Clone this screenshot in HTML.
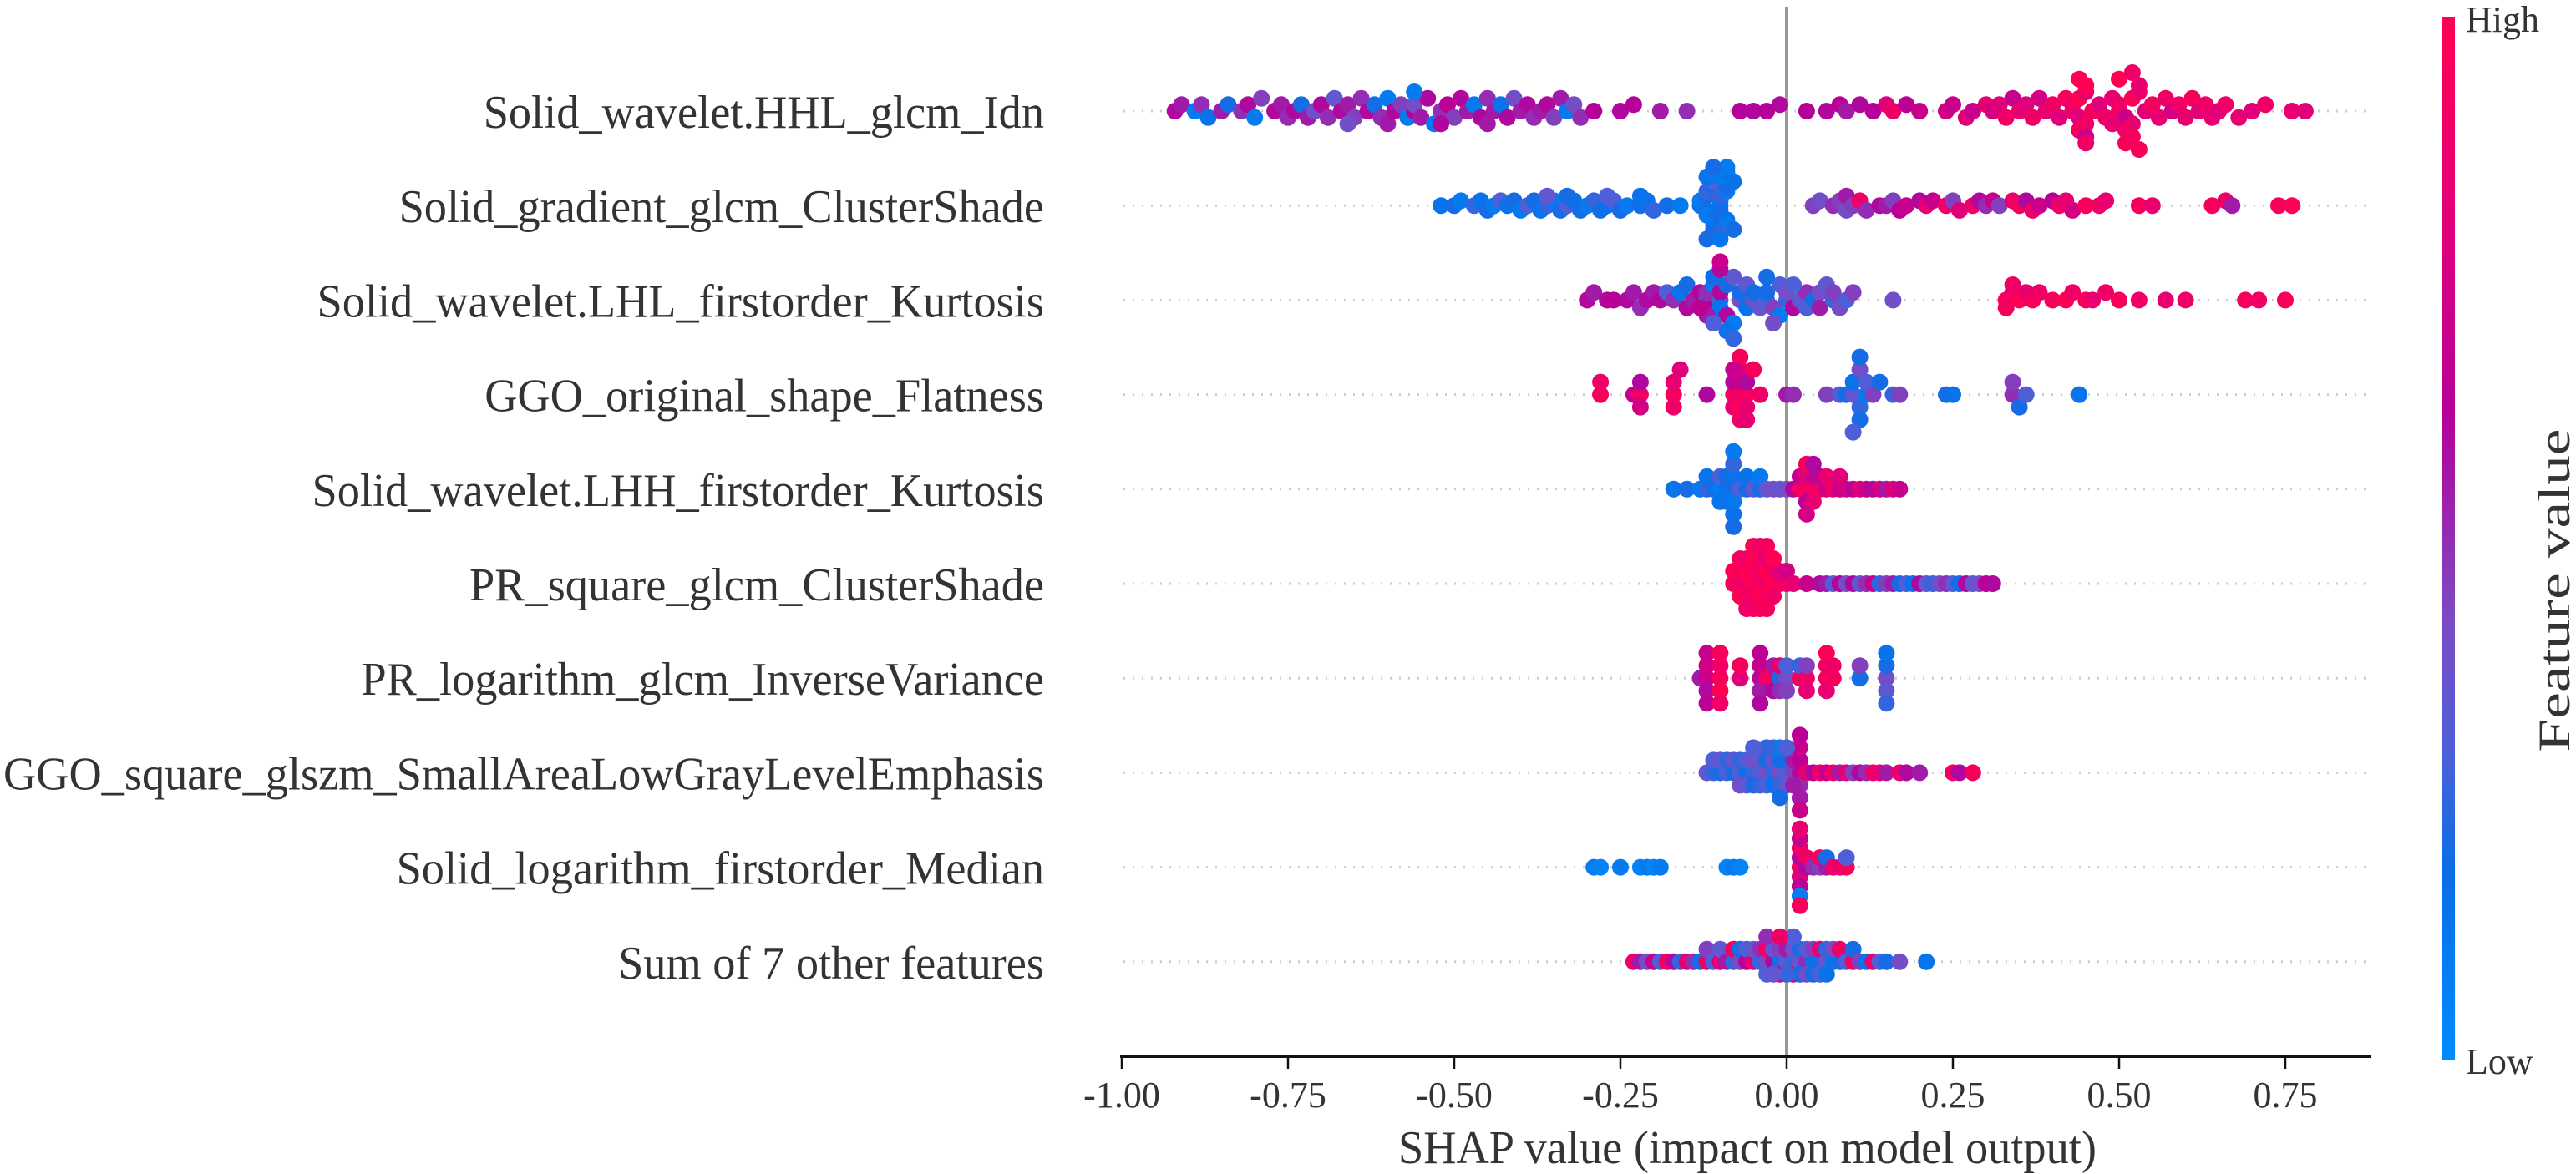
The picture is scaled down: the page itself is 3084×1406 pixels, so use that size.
<!DOCTYPE html>
<html><head><meta charset="utf-8"><style>
html,body{margin:0;padding:0;background:#fff;}
svg{display:block;}
text{font-family:"Liberation Serif","Times New Roman",serif;fill:#333;}
</style></head><body>
<svg id="chart" width="3084" height="1406" viewBox="0 0 3084 1406" xmlns="http://www.w3.org/2000/svg">
<defs>
<linearGradient id="cbar" x1="0" y1="1" x2="0" y2="0">
<stop offset="0" stop-color="#008bfb"/><stop offset="0.18" stop-color="#0a6ee6"/><stop offset="0.3" stop-color="#4f5fd8"/><stop offset="0.42" stop-color="#7a4bc4"/><stop offset="0.55" stop-color="#a21aa8"/><stop offset="0.62" stop-color="#b5009a"/><stop offset="0.8" stop-color="#e0007a"/><stop offset="1" stop-color="#ff0052"/>
</linearGradient>
</defs>
<g id="grid"></g>
<line x1="2139" y1="8" x2="2139" y2="1265" stroke="#999" stroke-width="4"/>
<g id="dots"></g>
<g id="axis"></g>
<g id="labels"></g>
<rect x="2923" y="20" width="16" height="1250" fill="url(#cbar)"/>
<text x="2952" y="38" font-size="44" fill="#222">High</text>
<text x="2952" y="1286" font-size="44" fill="#222">Low</text>
<text x="0" y="0" font-size="54" text-anchor="middle" textLength="387" lengthAdjust="spacingAndGlyphs" transform="translate(3076,707) rotate(-90)">Feature value</text>
<text x="2092" y="1393" font-size="56" text-anchor="middle" textLength="836" lengthAdjust="spacingAndGlyphs">SHAP value (impact on model output)</text>
</svg>
<script>
const features = ["Solid_wavelet.HHL_glcm_Idn","Solid_gradient_glcm_ClusterShade","Solid_wavelet.LHL_firstorder_Kurtosis","GGO_original_shape_Flatness","Solid_wavelet.LHH_firstorder_Kurtosis","PR_square_glcm_ClusterShade","PR_logarithm_glcm_InverseVariance","GGO_square_glszm_SmallAreaLowGrayLevelEmphasis","Solid_logarithm_firstorder_Median","Sum of 7 other features"];
const tickValues = [-1.0,-0.75,-0.5,-0.25,0.0,0.25,0.5,0.75];
const tickLabels = ["-1.00","-0.75","-0.50","-0.25","0.00","0.25","0.50","0.75"];

const shap0 = [-0.92,-0.91,-0.89,-0.88,-0.87,-0.85,-0.84,-0.82,-0.81,-0.80,-0.79,-0.77,-0.76,-0.75,-0.74,-0.73,-0.72,-0.71,-0.70,-0.69,-0.68,-0.67,-0.66,-0.65,-0.64,-0.63,-0.62,-0.61,-0.60,-0.60,-0.59,-0.58,-0.57,-0.56,-0.56,-0.55,-0.54,-0.53,-0.52,-0.51,-0.50,-0.49,-0.48,-0.47,-0.46,-0.45,-0.44,-0.43,-0.42,-0.41,-0.40,-0.39,-0.38,-0.37,-0.36,-0.35,-0.34,-0.33,-0.32,-0.31,-0.29,-0.25,-0.23,-0.19,-0.15,-0.07,-0.05,-0.03,-0.01,
0.03,0.06,0.08,0.09,0.11,0.13,0.15,0.16,0.18,0.20,0.24,0.25,0.27,0.28,0.30,0.31,0.32,0.33,0.34,0.35,0.36,0.37,0.38,0.39,0.40,0.41,0.42,0.43,0.43,0.44,0.44,0.45,0.45,0.46,0.47,0.48,0.49,0.50,0.50,0.51,0.52,0.52,0.53,0.54,0.55,0.56,0.57,0.58,0.59,0.60,0.61,0.62,0.63,0.64,0.65,0.66,0.68,0.70,0.72,0.76,0.78,0.44,0.45,0.51,0.53,0.45,0.52,
0.50,0.51,0.52,0.44,0.45,0.53,0.49,-0.56,-0.52,-0.66,-0.45];
const feat0 = [.6,.55,.1,.5,.15,.55,.2,.5,.6,.1,.45,.6,.55,.5,.6,.2,.55,.4,.6,.5,.35,.6,.55,.45,.5,.6,.2,.5,.1,.55,.6,.45,.1,.62,.4,.55,.6,.1,.5,.65,.45,.6,.55,.1,.6,.5,.55,.15,.6,.4,.55,.6,.5,.55,.6,.45,.55,.1,.4,.5,.62,.6,.62,.55,.5,.62,.6,.62,.6,
.62,.6,.65,.55,.6,.62,.8,.9,.65,.7,.75,.7,.8,.7,.85,.75,.8,.9,.7,.85,.8,.9,.75,.85,.9,.8,.95,.85,.9,.8,1,.9,.85,.95,.8,.9,.85,.95,.9,.7,1,.85,.9,.8,.95,.85,.9,.75,.9,.85,.95,.8,.9,.85,.8,.9,.85,.8,.9,.85,.8,.95,1,.9,.85,.7,.95,
1,.95,.9,1,.9,.95,.85,.1,.6,.4,.55];

const shap1 = [-0.52,-0.50,-0.49,-0.47,-0.46,-0.45,-0.44,-0.43,-0.42,-0.41,-0.40,-0.39,-0.38,-0.37,-0.36,-0.35,-0.34,-0.33,-0.32,-0.31,-0.30,-0.29,-0.28,-0.27,-0.26,-0.25,-0.24,-0.22,-0.21,-0.20,-0.18,-0.16,-0.13,-0.13,-0.12,-0.12,-0.12,-0.12,-0.11,-0.11,-0.11,-0.11,-0.11,-0.10,-0.10,-0.10,-0.10,-0.10,-0.09,-0.09,-0.09,-0.09,-0.08,-0.08,
0.04,0.05,0.07,0.08,0.09,0.09,0.10,0.11,0.12,0.14,0.15,0.16,0.17,0.18,0.20,0.21,0.22,0.24,0.25,0.26,0.28,0.29,0.30,0.31,0.32,0.34,0.35,0.36,0.37,0.38,0.40,0.41,0.42,0.43,0.45,0.47,0.48,0.53,0.55,0.64,0.66,0.67,0.74,0.76,
-0.12,-0.11,-0.10,-0.10,-0.09,-0.11,-0.12,-0.10,-0.09,-0.11,-0.27,-0.33,-0.36,-0.22];
const feat1 = [.15,.2,.1,.25,.15,.2,.1,.3,.15,.2,.1,.3,.2,.15,.25,.1,.2,.3,.15,.2,.1,.25,.2,.15,.3,.2,.1,.2,.15,.25,.2,.1,.2,.1,.15,.2,.1,.25,.15,.2,.1,.3,.15,.2,.1,.15,.25,.2,.1,.15,.2,.1,.15,.2,
.45,.4,.5,.45,.4,.55,.45,.9,.5,.6,.55,.45,.65,.7,.6,.85,.7,.9,.45,.8,.9,.6,.5,.7,.45,.9,.95,.6,.9,.7,.65,.9,.85,.75,.95,.9,.85,.95,.85,.95,.9,.55,.95,1,
.15,.2,.1,.25,.15,.1,.2,.15,.1,.2,.3,.2,.35,.15];

const shap2 = [-0.30,-0.29,-0.27,-0.26,-0.24,-0.23,-0.22,-0.21,-0.20,-0.19,-0.18,-0.17,-0.16,-0.15,-0.15,-0.14,-0.13,-0.12,-0.12,-0.11,-0.11,-0.10,-0.10,-0.10,-0.09,-0.09,-0.08,-0.08,-0.07,-0.07,-0.06,-0.06,-0.05,-0.05,-0.04,-0.03,-0.03,-0.02,-0.01,-0.01,0.00,0.00,0.01,0.02,0.03,0.03,0.04,0.05,0.05,0.06,0.07,0.07,0.08,0.09,0.10,0.16,
0.33,0.34,0.35,0.36,0.37,0.38,0.40,0.42,0.43,0.45,0.46,0.48,0.50,0.53,0.57,0.60,0.69,0.71,0.75,
-0.12,-0.11,-0.10,-0.09,-0.10,-0.11,-0.13,-0.08,-0.03,-0.02,0.01,0.33,0.34];
const feat2 = [.6,.55,.6,.65,.6,.55,.5,.6,.55,.6,.3,.5,.15,.6,.2,.55,.6,.1,.5,.62,.1,.3,.6,.15,.2,.6,.35,.1,.4,.2,.15,.35,.4,.2,.35,.3,.2,.45,.3,.1,.25,.4,.6,.35,.5,.3,.2,.4,.55,.35,.25,.45,.4,.3,.45,.4,
.95,.9,1,.85,.95,.9,.95,1,.9,.95,.85,.9,.95,.9,.85,.9,.95,.9,.95,
.55,.2,.6,.15,.7,.3,.65,.25,.2,.4,.3,.95,.9];

const shap3 = [-0.28,-0.28,-0.23,-0.22,-0.22,-0.22,-0.17,-0.17,-0.17,-0.16,-0.12,-0.08,-0.08,-0.08,-0.07,-0.07,-0.07,-0.07,-0.06,-0.06,-0.06,-0.05,-0.04,0.00,0.01,0.06,0.08,0.09,0.10,0.10,0.11,0.11,0.11,0.12,0.12,0.13,0.14,0.16,0.17,0.24,0.25,0.34,0.34,0.35,0.36,0.44,
-0.07,-0.07,-0.06,-0.08,0.11,0.10];
const feat3 = [.95,.9,.7,.9,.6,.75,.95,.85,.9,.8,.6,.95,.6,.85,.9,.7,1,.8,.95,.6,.85,.95,.9,.55,.5,.45,.3,.2,.35,.15,.25,.4,.2,.1,.3,.45,.2,.25,.45,.2,.15,.5,.45,.2,.3,.15,
.9,.95,.85,.7,.2,.3];

const shap4 = [-0.17,-0.15,-0.13,-0.12,-0.12,-0.11,-0.10,-0.10,-0.09,-0.09,-0.09,-0.08,-0.08,-0.08,-0.08,-0.08,-0.07,-0.06,-0.06,-0.05,-0.04,-0.04,-0.03,-0.02,-0.01,0.00,0.01,0.02,0.02,0.03,0.03,0.03,0.04,0.04,0.04,0.05,0.05,0.06,0.06,0.07,0.08,0.08,0.09,0.10,0.11,0.12,0.13,0.14,0.15,0.16,0.17,
-0.08,-0.08,-0.10,0.03,0.04,0.03];
const feat4 = [.15,.2,.1,.25,.15,.2,.1,.3,.15,.2,.1,.2,.15,.1,.25,.15,.3,.2,.15,.35,.2,.1,.35,.4,.35,.4,.6,.9,.7,.95,.8,.65,.9,.7,.85,.95,.6,.75,.85,.9,.7,.8,.75,.65,.8,.7,.6,.75,.55,.8,.7,
.1,.2,.15,.95,.6,.75];

const shap5 = [-0.08,-0.08,-0.07,-0.07,-0.07,-0.07,-0.06,-0.06,-0.06,-0.06,-0.05,-0.05,-0.05,-0.05,-0.04,-0.04,-0.04,-0.04,-0.03,-0.03,-0.03,-0.03,-0.02,-0.02,-0.02,-0.01,-0.01,0.00,0.00,0.01,0.03,0.05,0.06,0.07,0.08,0.09,0.10,0.11,0.12,0.13,0.14,0.15,0.16,0.17,0.18,0.19,0.20,0.21,0.22,0.23,0.24,0.25,0.26,0.27,0.28,0.29,0.30,0.31,
-0.05,-0.04,-0.06,-0.05,-0.03,-0.04,-0.02,-0.03];
const feat5 = [.95,1,.9,.95,1,.95,.9,1,.95,.9,1,.95,.9,1,.95,.9,1,.95,.9,1,.95,.85,1,.95,.9,.95,.8,.9,.75,.85,.7,.6,.55,.3,.65,.4,.6,.35,.5,.7,.25,.45,.55,.2,.3,.15,.6,.35,.25,.4,.5,.3,.2,.6,.35,.4,.65,.6,
1,.95,.9,1,.95,.9,1,.95];

const shap6 = [-0.13,-0.12,-0.12,-0.12,-0.12,-0.12,-0.10,-0.10,-0.10,-0.10,-0.10,-0.07,-0.07,-0.04,-0.04,-0.04,-0.04,-0.04,-0.03,-0.02,-0.02,-0.02,-0.01,-0.01,-0.01,0.00,0.00,0.00,0.02,0.02,0.03,0.03,0.03,0.06,0.06,0.06,0.06,0.07,0.07,0.11,0.11,0.15,0.15,0.15,0.15,0.15];
const feat6 = [.55,.7,.75,.6,.7,.65,.95,.9,1,.95,.9,.8,.95,.6,.7,.55,.65,.6,.9,.95,.55,.6,.2,.85,.5,.4,.3,.45,.95,.25,.9,.45,.85,.95,.9,.85,1,.95,.9,.2,.45,.4,.2,.35,.15,.25];

const shap7 = [-0.12,-0.11,-0.11,-0.10,-0.10,-0.09,-0.09,-0.08,-0.08,-0.07,-0.07,-0.07,-0.06,-0.06,-0.06,-0.05,-0.05,-0.05,-0.04,-0.04,-0.04,-0.03,-0.03,-0.03,-0.02,-0.02,-0.02,-0.02,-0.01,-0.01,-0.01,-0.01,0.00,0.00,0.00,0.01,0.01,0.02,0.02,0.02,0.02,0.02,0.03,0.04,0.05,0.06,0.07,0.08,0.09,0.10,0.11,0.12,0.13,0.14,0.15,0.17,0.18,0.20,0.25,0.26,0.28,
0.02,0.02,0.01,0.00,-0.01,-0.03,-0.05];
const feat7 = [.35,.25,.3,.2,.35,.3,.25,.2,.35,.3,.25,.4,.2,.3,.35,.25,.4,.2,.3,.35,.25,.4,.2,.3,.25,.35,.15,.3,.4,.2,.25,.1,.3,.2,.35,.45,.55,.6,.65,.5,.7,.55,.85,.6,.9,.7,.9,.55,.8,.45,.6,.5,.9,.85,.55,.9,.6,.55,.9,.6,.95,
.65,.7,.55,.3,.2,.25,.3];

const shap8 = [-0.29,-0.28,-0.25,-0.22,-0.21,-0.20,-0.19,-0.09,-0.08,-0.07,0.02,0.02,0.02,0.02,0.02,0.02,0.02,0.02,0.02,0.03,0.03,0.04,0.05,0.05,0.06,0.06,0.07,0.08,0.09,0.09];
const feat8 = [.1,.05,.1,.05,.1,.05,.1,.05,.1,.05,.95,.6,.8,.9,.65,.7,.1,.85,.95,.6,.9,.5,.45,.95,.55,.2,.9,.85,.95,.3];

const shap9 = [-0.23,-0.22,-0.21,-0.20,-0.19,-0.18,-0.17,-0.16,-0.15,-0.14,-0.13,-0.12,-0.12,-0.11,-0.10,-0.10,-0.09,-0.08,-0.08,-0.07,-0.07,-0.06,-0.06,-0.05,-0.05,-0.04,-0.04,-0.03,-0.03,-0.03,-0.02,-0.02,-0.01,-0.01,-0.01,0.00,0.00,0.01,0.01,0.01,0.02,0.02,0.03,0.03,0.04,0.04,0.05,0.05,0.06,0.06,0.07,0.07,0.08,0.08,0.09,0.10,0.10,0.11,0.12,0.13,0.14,0.15,0.17,0.21,
0.01,0.02,0.03,0.00,-0.02,0.04,0.05,-0.03,-0.01,0.06];
const feat9 = [.9,.55,.4,.7,.3,.95,.6,.25,.85,.5,.2,.9,.45,.3,.8,.35,.55,.25,.95,.4,.2,.65,.3,.85,.35,.25,.5,.4,.9,.3,.6,.35,.2,.45,.8,.3,.55,.25,.4,.9,.35,.2,.5,.3,.15,.45,.2,.85,.35,.25,.15,.4,.2,.9,.3,.95,.2,.45,.15,.9,.3,.2,.4,.15,
.3,.2,.4,.25,.35,.2,.3,.5,.9,.15];

const shapRows = [shap0,shap1,shap2,shap3,shap4,shap5,shap6,shap7,shap8,shap9];
const featRows = [feat0,feat1,feat2,feat3,feat4,feat5,feat6,feat7,feat8,feat9];

const NS = "http://www.w3.org/2000/svg";
const X0 = 2139, PXU = 796, AXIS_Y = 1265, ROW0 = 133, ROWH = 113.2;
function xScale(v){ return X0 + v*PXU; }
function yRow(i){ return ROW0 + i*ROWH; }
const stops = [[0,[0,139,251]],[0.18,[10,110,230]],[0.3,[79,95,216]],[0.42,[122,75,196]],[0.55,[162,26,168]],[0.62,[181,0,154]],[0.8,[224,0,122]],[1,[255,0,82]]];
function cmap(t){
  t=Math.max(0,Math.min(1,t));
  for(let k=1;k<stops.length;k++){
    if(t<=stops[k][0]){
      const a=stops[k-1],b=stops[k],f=(t-a[0])/(b[0]-a[0]);
      const c=a[1].map((v,j)=>Math.round(v+(b[1][j]-v)*f));
      return `rgb(${c[0]},${c[1]},${c[2]})`;
    }
  }
  return "rgb(255,0,82)";
}
function mk(tag,attrs,parent){const e=document.createElementNS(NS,tag);for(const k in attrs)e.setAttribute(k,attrs[k]);parent.appendChild(e);return e;}

const grid=document.getElementById('grid'), dots=document.getElementById('dots'), axis=document.getElementById('axis'), labels=document.getElementById('labels');

features.forEach((f,i)=>{
  const y=yRow(i);
  const g=mk('line',{x1:1345,x2:2840,y1:y,y2:y,stroke:'#ccc','stroke-width':3,'stroke-dasharray':'2,9'},grid);
  
  
  const t=mk('text',{x:1250,y:y+20,'font-size':56,'text-anchor':'end','font-family':'Liberation Serif, Times New Roman, serif'},labels);
  
  
  t.textContent=f;
});

// beeswarm (shap-style binning, coarser bins for thicker swarms)
shapRows.forEach((vals,i)=>{
  const fv=featRows[i];
  const n=vals.length;
  const mn=Math.min(...vals), mx=Math.max(...vals);
  const nb=45;
  const quant=vals.map(v=>Math.round(nb*(v-mn)/(mx-mn+1e-8)));
  const idx=[...Array(n).keys()].sort((a,b)=>quant[a]-quant[b]||a-b);
  const ys=new Array(n).fill(0);
  let layer=0,last=-1;
  idx.forEach(k=>{
    if(quant[k]!==last) layer=0;
    ys[k]=Math.ceil(layer/2)*((layer%2)*2-1);
    layer++; last=quant[k];
  });
  const m=Math.max(...ys.map(Math.abs));
  const sc=Math.min(15, 46/Math.max(m,1));
  for(let k=0;k<n;k++){
    const c=mk('circle',{cx:xScale(vals[k]).toFixed(1),cy:(yRow(i)-ys[k]*sc).toFixed(1),r:10,fill:cmap(fv[k])},dots);
    
    
  }
});

// axis
const al=mk('line',{x1:1341,x2:2838,y1:AXIS_Y,y2:AXIS_Y,stroke:'#111','stroke-width':4},axis);


tickValues.forEach((v,k)=>{
  const x=xScale(v);
  const tl=mk('line',{x1:x,x2:x,y1:AXIS_Y,y2:AXIS_Y+15,stroke:'#111','stroke-width':2.5},axis);
  
  
  const tt=mk('text',{x:x,y:1326,'font-size':44,'text-anchor':'middle'},axis);
  
  
  tt.textContent=tickLabels[k];
});

// condense feature labels to match reference width
const lab=[...labels.querySelectorAll('text')];
const ref=lab[7].getComputedTextLength();
const factor=1246/ref;
lab.forEach(t=>{
  const w=t.getComputedTextLength();
  t.setAttribute('textLength',(w*factor).toFixed(1));
  t.setAttribute('lengthAdjust','spacingAndGlyphs');
});
</script>
</body></html>
